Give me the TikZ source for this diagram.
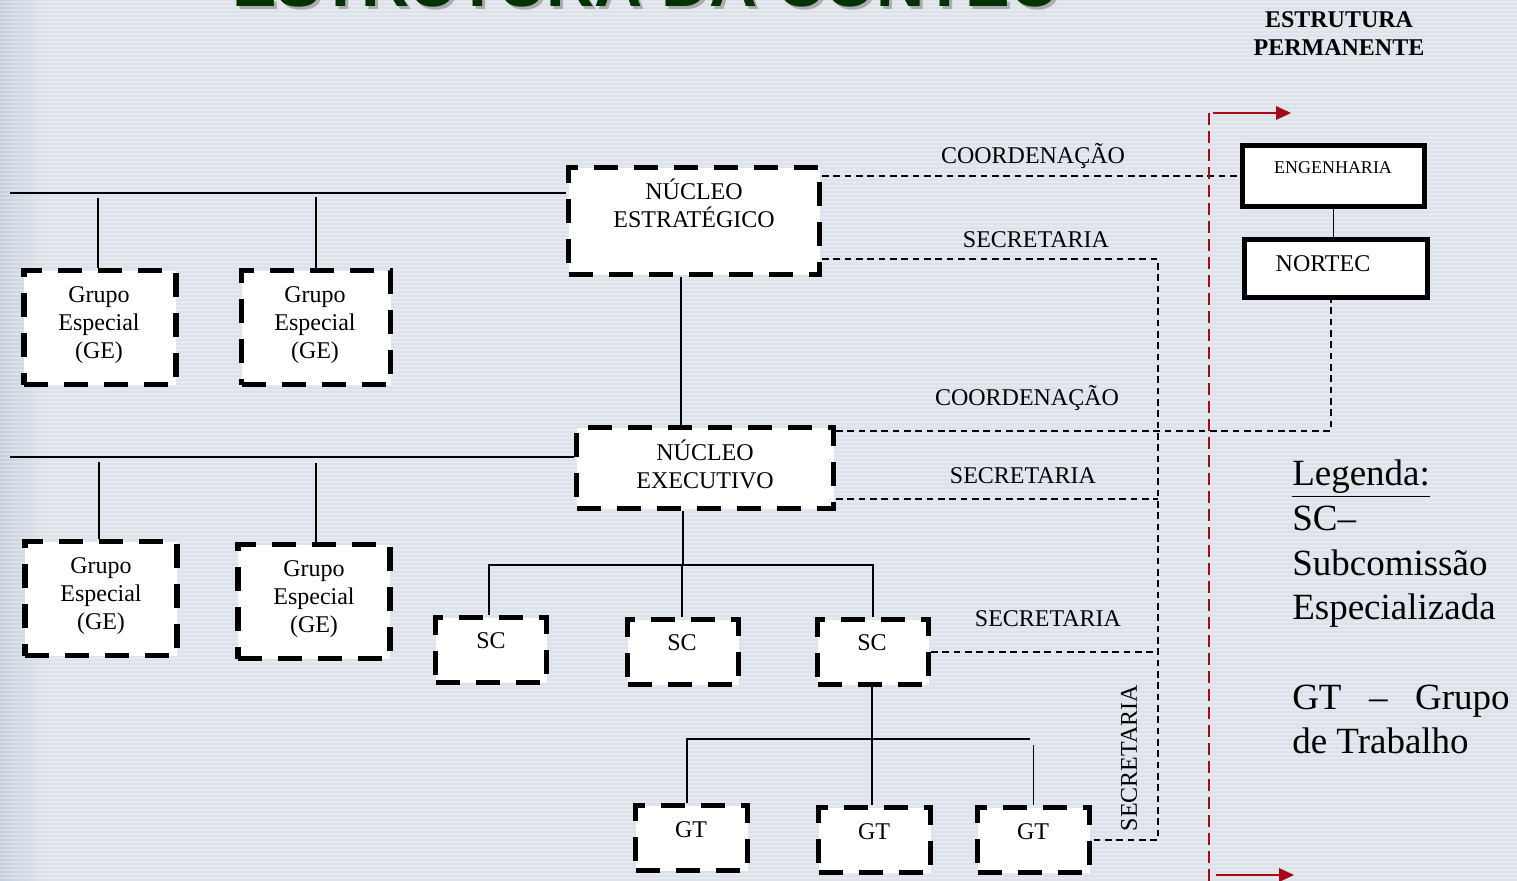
\documentclass[tikz,border=0pt]{standalone}
\usepackage{fontspec}
\setmainfont{Liberation Serif}
\setsansfont{Liberation Sans}
\definecolor{bgcol}{RGB}{221,225,233}
\definecolor{edgecol}{RGB}{196,208,222}
\definecolor{titlegreen}{RGB}{0,51,0}
\definecolor{permred}{RGB}{165,10,25}
\begin{document}
\begin{tikzpicture}[x=0.75pt,y=0.75pt,yscale=-1,xscale=1,
  dbox/.style={draw=black, fill=white, line width=3.9pt, dash pattern=on 18pt off 12pt, inner sep=0pt},
  gebox/.style={dbox, minimum width=114pt, minimum height=85.5pt},
  scbox/.style={dbox, minimum width=83.25pt, minimum height=48.75pt},
  gtbox/.style={dbox, minimum width=84pt, minimum height=48.75pt},
  pbox/.style={draw=black, fill=white, line width=3.75pt, inner sep=0pt},
  txt/.style={font=\fontsize{18}{21}\selectfont, align=center, inner sep=0pt},
  wire/.style={draw=black, line width=1.1pt},
  link/.style={draw=black, line width=1.2pt, dash pattern=on 5pt off 3.5pt},
  redline/.style={draw=permred, line width=1.5pt, dash pattern=on 9pt off 4.5pt}]
\useasboundingbox (0,0) rectangle (1517,881);
\clip (0,0) rectangle (1517,881);
\fill [bgcol] (0,0) rectangle (1517,881);
\shade [left color=edgecol, right color=bgcol] (0,0) rectangle (45,881);
\foreach \yy in {2,6,...,878} {\draw [white, opacity=0.25, line width=1.2pt] (0,\yy) -- (1517,\yy);}
% titulo
\node [anchor=base, text=gray!65, font=\fontsize{50}{52}\sffamily\bfseries] (titleshadow) at (648,10) {ESTRUTURA DA CONTEC};
\node [anchor=base, text=titlegreen, font=\fontsize{50}{52}\sffamily\bfseries] (title) at (645,7) {ESTRUTURA DA CONTEC};
\node [txt, font=\fontsize{18}{21}\selectfont\bfseries] (perm) at (1339,34) {ESTRUTURA\\PERMANENTE};
% nucleos
\node [dbox, minimum width=188.25pt, minimum height=80.25pt] (ne) at (694,221) {};
\node [txt] (ne-t) at (694,203) {NÚCLEO\\ESTRATÉGICO};
\node [dbox, minimum width=192.75pt, minimum height=60.75pt] (nex) at (705,468) {};
\node [txt] (nex-t) at (705,464) {NÚCLEO\\EXECUTIVO};
% grupos especiais
\node [gebox] (ge1) at (100,327.5) {};
\node [txt] (ge1-t) at (99,325) {Grupo\\Especial\\(GE)};
\node [gebox, minimum width=111.75pt] (ge2) at (316,327.5) {};
\node [txt] (ge2-t) at (315,325) {Grupo\\Especial\\(GE)};
\node [gebox] (ge3) at (101,598.5) {};
\node [txt] (ge3-t) at (101,596) {Grupo\\Especial\\(GE)};
\node [gebox] (ge4) at (314,601.5) {};
\node [txt] (ge4-t) at (314,599) {Grupo\\Especial\\(GE)};
% subcomissoes e grupos de trabalho
\node [scbox] (sc1) at (491,650) {};
\node [txt] (sc1-t) at (491,641) {SC};
\node [scbox] (sc2) at (683,652) {};
\node [txt] (sc2-t) at (682,643) {SC};
\node [scbox] (sc3) at (873,652) {};
\node [txt] (sc3-t) at (872,643) {SC};
\node [gtbox] (gt1) at (691.5,838) {};
\node [txt] (gt1-t) at (691,830) {GT};
\node [gtbox] (gt2) at (874.5,840) {};
\node [txt] (gt2-t) at (874,832) {GT};
\node [gtbox] (gt3) at (1033.5,840) {};
\node [txt] (gt3-t) at (1033,832) {GT};
% estrutura permanente
\node [pbox, minimum width=136.5pt, minimum height=45.75pt] (eng) at (1333.5,176) {};
\node [txt, font=\fontsize{13.5}{16}\selectfont] (eng-t) at (1333,168) {ENGENHARIA};
\node [pbox, minimum width=137.25pt, minimum height=43.5pt] (nortec) at (1336,268.5) {};
\node [txt] (nortec-t) at (1323,264) {NORTEC};
% ligacoes
\coordinate (bus1) at (10,193);
\coordinate (bus2) at (10,457);
\draw [wire] (bus1) -- (bus1 -| ne.west);
\draw [wire] ([xshift=-1.5pt]ge1.north) -- ++(0,-70);
\draw [wire] (ge2.north) -- ++(0,-71);
\draw [wire] ([xshift=-9.75pt]ne.south) -- ([xshift=-9.75pt]ne.south |- nex.north);
\draw [wire] (bus2) -- (bus2 -| nex.west);
\draw [wire] ([xshift=-1.5pt]ge3.north) -- ++(0,-77);
\draw [wire] ([xshift=1.5pt]ge4.north) -- ++(0,-79);
\draw [wire] ([xshift=-16.5pt]nex.south) -- ++(0,54) coordinate (scbus);
\draw [wire] ([xshift=-1.5pt]sc1.north) |- (scbus) -| (sc3.north);
\draw [wire] ([xshift=-0.75pt]sc2.north) -- ([xshift=-0.75pt]sc2.north |- scbus);
\draw [wire] ([xshift=-0.75pt]sc3.south) -- ++(0,52) coordinate (gtbus);
\draw [wire] ([xshift=-3.4pt]gt1.north) |- (gtbus) -- ([xshift=-2.5pt]gtbus -| gt3.north);
\draw [wire] ([xshift=-1.9pt]gt2.north) -- ([xshift=-1.9pt]gt2.north |- gtbus);
\draw [wire] (gt3.north) -- ++(0,-60);
\draw [wire] (eng.south) -- (eng.south |- nortec.north);
% coordenacao e secretaria
\coordinate (secbus) at (1158,259);
\draw [link] ([yshift=-33.75pt]ne.east) -- (eng.west);
\draw [link] ([yshift=28.5pt]ne.east) -- (secbus) -- (secbus |- gt3.east) -- (gt3.east);
\draw [link] ([yshift=-27.75pt]nex.east) -- ([yshift=-27.75pt,xshift=-3.75pt]nex.east -| nortec.south) -- ([xshift=-3.75pt]nortec.south);
\draw [link] ([yshift=23.25pt]nex.east) -- ([yshift=23.25pt]nex.east -| secbus);
\draw [link] (sc3.east) -- (sc3.east -| secbus);
\node [txt] (coord1) at (1033,156) {COORDENAÇÃO};
\node [txt] (sec1) at (1036,240) {SECRETARIA};
\node [txt] (coord2) at (1027,398) {COORDENAÇÃO};
\node [txt] (sec2) at (1023,476) {SECRETARIA};
\node [txt] (sec3) at (1048,619) {SECRETARIA};
\node [txt, rotate=90] (sec4) at (1129,758) {SECRETARIA};
% limite da estrutura permanente
\coordinate (redtop) at (1209,113);
\coordinate (redbot) at (1209,881);
\draw [redline] (redtop) -- (redbot);
\draw [permred, line width=1.5pt] ([xshift=3pt]redtop) -- ++(66,0);
\draw [shift={(1291,113)}, rotate=180] [fill=permred][draw opacity=0] (15,-7) -- (0,0) -- (15,7) -- cycle;
\draw [permred, line width=1.5pt] ([xshift=5pt,yshift=-4.5pt]redbot) -- ++(66,0);
\draw [shift={(1294,875)}, rotate=180] [fill=permred][draw opacity=0] (15,-7) -- (0,0) -- (15,7) -- cycle;
% legenda
\node [anchor=north west, inner sep=0pt, align=left, font=\fontsize{27.75}{33.5}\selectfont] (legend) at (1292,460) {\underline{Legenda:}\\SC–\\Subcomissão\\Especializada\\[33.5pt]\hbox to 163pt{GT\hfil–\hfil Grupo}\\de Trabalho};
\end{tikzpicture}
\end{document}
